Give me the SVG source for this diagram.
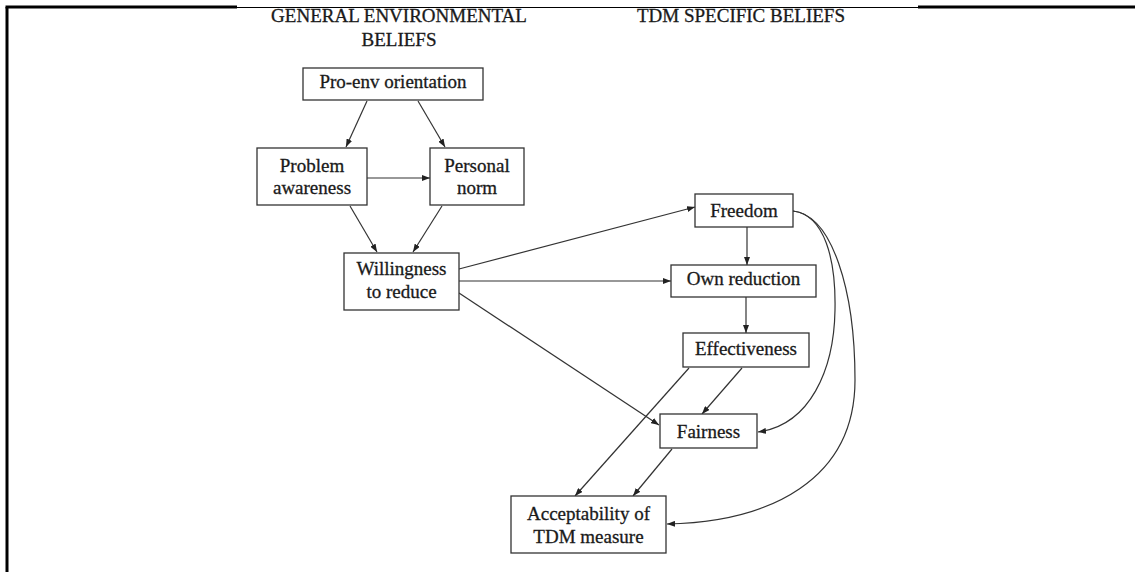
<svg xmlns="http://www.w3.org/2000/svg" width="1135" height="572" viewBox="0 0 1135 572">
  <style>
    .frame { stroke: #000; fill: none; }
    .box { fill: #fff; stroke: #333; stroke-width: 1.3; }
    .lbl, .hdr { font-family: "Liberation Serif", "Times New Roman", serif; font-size: 19px; fill: #1a1a1a; stroke: #1a1a1a; stroke-width: 0.3; text-anchor: middle; }
    .edge { fill: none; stroke: #333; stroke-width: 1.2; marker-end: url(#arrow); }
  </style>
  <defs>
    <marker id="arrow" markerUnits="userSpaceOnUse" markerWidth="8" markerHeight="6" refX="8" refY="3" orient="auto">
      <path d="M0,0 L8,3 L0,6 Z" fill="#222"/>
    </marker>
  </defs>

  <rect width="1135" height="572" fill="#fff"/>

  <!-- page frame -->
  <g id="frame">
    <line class="frame" x1="7" y1="7" x2="7" y2="572" stroke-width="3"/>
    <line class="frame" x1="5.5" y1="7" x2="237" y2="7" stroke-width="3"/>
    <line class="frame" x1="237" y1="7.5" x2="918" y2="7.5" stroke-width="1.2"/>
    <line class="frame" x1="918" y1="7" x2="1135" y2="7" stroke-width="3"/>
  </g>

  <!-- column headings -->
  <g id="headings">
    <text class="hdr" x="399" y="22">GENERAL ENVIRONMENTAL</text>
    <text class="hdr" x="399" y="46">BELIEFS</text>
    <text class="hdr" x="741" y="22">TDM SPECIFIC BELIEFS</text>
  </g>

  <!-- connectors -->
  <g id="connectors">
    <line class="edge" x1="367" y1="101" x2="346" y2="147"/>
    <line class="edge" x1="418" y1="101" x2="445" y2="147"/>
    <line class="edge" x1="367" y1="178" x2="430" y2="178"/>
    <line class="edge" x1="350" y1="206" x2="377" y2="252"/>
    <line class="edge" x1="442" y1="206" x2="413" y2="252"/>
    <line class="edge" x1="459" y1="269" x2="695" y2="207"/>
    <line class="edge" x1="459" y1="281" x2="671" y2="281"/>
    <line class="edge" x1="459" y1="293" x2="659" y2="425"/>
    <line class="edge" x1="747" y1="227" x2="747" y2="265"/>
    <line class="edge" x1="746" y1="297" x2="746" y2="333"/>
    <line class="edge" x1="689" y1="368" x2="575" y2="496"/>
    <line class="edge" x1="742" y1="368" x2="702" y2="414"/>
    <line class="edge" x1="672" y1="449" x2="633" y2="496"/>
    <path class="edge" d="M793,211 C825,215 836,260 835,310 C834,370 810,425 758,432"/>
    <path class="edge" d="M793,211 C832,215 855,290 855,380 C855,480 770,522 667,524"/>
  </g>

  <!-- nodes -->
  <g id="pro-env">
    <rect class="box" x="303" y="68" width="180" height="32"/>
    <text class="lbl" x="393" y="88">Pro-env orientation</text>
  </g>
  <g id="problem-awareness">
    <rect class="box" x="257" y="148" width="110" height="57"/>
    <text class="lbl" x="312" y="172">Problem</text>
    <text class="lbl" x="312" y="194">awareness</text>
  </g>
  <g id="personal-norm">
    <rect class="box" x="430" y="148" width="94" height="57"/>
    <text class="lbl" x="477" y="172">Personal</text>
    <text class="lbl" x="477" y="194">norm</text>
  </g>
  <g id="willingness">
    <rect class="box" x="344" y="253" width="115" height="57"/>
    <text class="lbl" x="401.5" y="275">Willingness</text>
    <text class="lbl" x="401.5" y="298">to reduce</text>
  </g>
  <g id="freedom">
    <rect class="box" x="695" y="194" width="98" height="33"/>
    <text class="lbl" x="744" y="217">Freedom</text>
  </g>
  <g id="own-reduction">
    <rect class="box" x="671" y="265" width="145" height="32"/>
    <text class="lbl" x="743.5" y="285">Own reduction</text>
  </g>
  <g id="effectiveness">
    <rect class="box" x="683" y="333" width="126" height="34"/>
    <text class="lbl" x="746" y="355">Effectiveness</text>
  </g>
  <g id="fairness">
    <rect class="box" x="660" y="414" width="97" height="34"/>
    <text class="lbl" x="708.5" y="438">Fairness</text>
  </g>
  <g id="acceptability">
    <rect class="box" x="511" y="496" width="155" height="57"/>
    <text class="lbl" x="588.5" y="520">Acceptability of</text>
    <text class="lbl" x="588.5" y="543">TDM measure</text>
  </g>
</svg>
